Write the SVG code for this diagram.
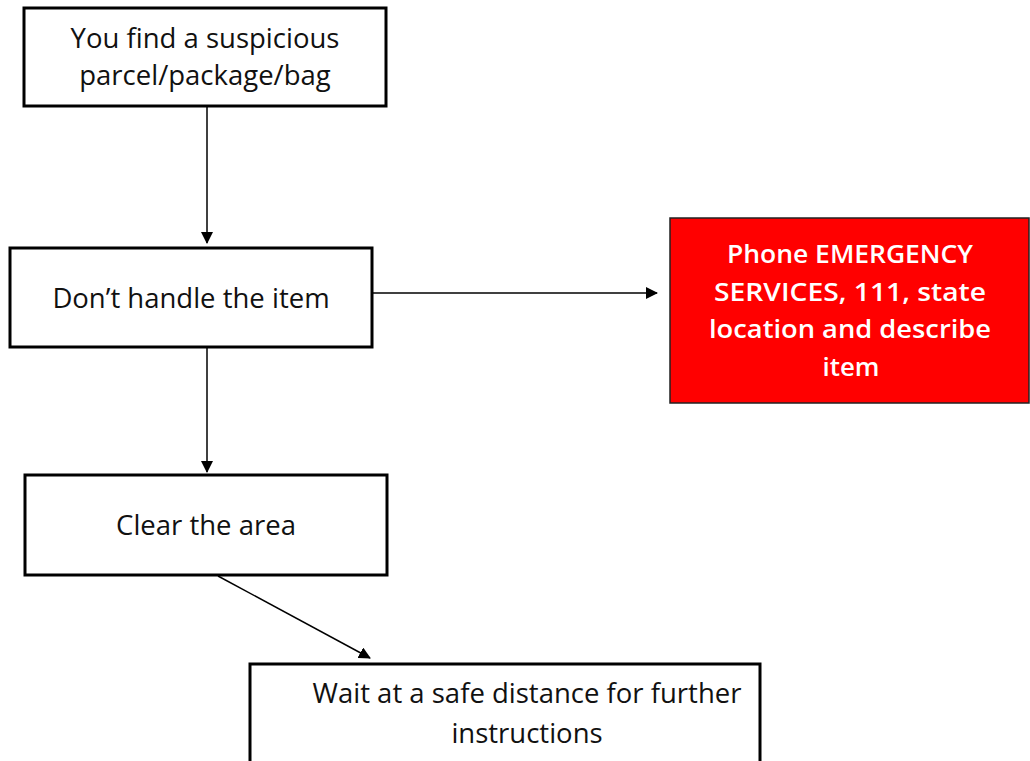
<svg xmlns="http://www.w3.org/2000/svg" width="1030" height="761" viewBox="0 0 1030 761">
<style>
.box{fill:#fff;stroke:#000;stroke-width:3}
.red{fill:#ff0000;stroke:#222;stroke-width:1.5}
.t{font-family:"Open Sans","DejaVu Sans",sans-serif;font-size:27.5px;fill:#111;text-anchor:middle}
.w{font-family:"Open Sans","DejaVu Sans",sans-serif;font-size:26px;font-weight:600;fill:#fff;text-anchor:middle}
.c{stroke:#000;stroke-width:1.5;fill:none;marker-end:url(#ah)}
</style>
<defs>
<marker id="ah" markerWidth="12" markerHeight="12" refX="11" refY="6" orient="auto" markerUnits="userSpaceOnUse"><path d="M0,0 L12,6 L0,12 Z" fill="#000"/></marker>
</defs>
<g id="connectors">
<line class="c" x1="207" y1="107" x2="207" y2="243"/>
<line class="c" x1="372" y1="293" x2="657" y2="293"/>
<line class="c" x1="207" y1="347" x2="207" y2="472"/>
<line class="c" x1="218" y1="576" x2="370" y2="658"/>
</g>
<g id="n1"><rect class="box" x="24" y="8" width="362" height="98"/>
<text class="t" x="205" y="48">You find a suspicious</text>
<text class="t" x="205" y="85">parcel/package/bag</text></g>
<g id="n2"><rect class="box" x="10" y="248" width="362" height="99"/>
<text class="t" x="191" y="308">Don’t handle the item</text></g>
<g id="n3"><rect class="red" x="670" y="218" width="359" height="185"/>
<text class="w" x="850" y="263" textLength="246" lengthAdjust="spacingAndGlyphs">Phone EMERGENCY</text>
<text class="w" x="850" y="301" textLength="272" lengthAdjust="spacingAndGlyphs">SERVICES, 111, state</text>
<text class="w" x="850" y="338" textLength="282" lengthAdjust="spacingAndGlyphs">location and describe</text>
<text class="w" x="851" y="376" textLength="57" lengthAdjust="spacingAndGlyphs">item</text></g>
<g id="n4"><rect class="box" x="25" y="475" width="362" height="100"/>
<text class="t" x="206" y="535">Clear the area</text></g>
<g id="n5"><rect class="box" x="250" y="664" width="510" height="110"/>
<text class="t" x="527" y="703">Wait at a safe distance for further</text>
<text class="t" x="527" y="743">instructions</text></g>
</svg>
